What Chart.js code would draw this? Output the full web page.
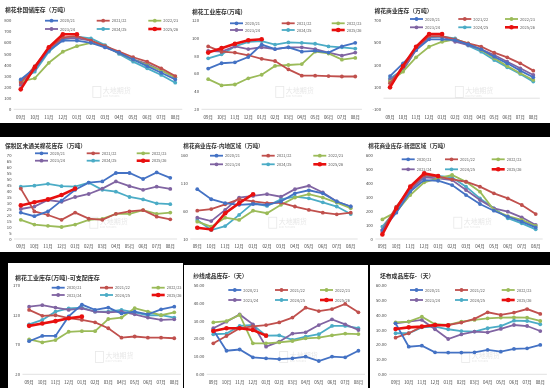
<!DOCTYPE html>
<html>
<head>
<meta charset="utf-8">
<script src="https://cdn.jsdelivr.net/npm/chart.js@4.4.0/dist/chart.umd.min.js"></script>
<style>
    body { margin: 0; width: 550px; height: 388px; background: #000; position: relative; overflow: hidden; }
    .fundo { position: absolute; background: #fff; }
    canvas { position: absolute; }
</style>
</head>
<body>
<div class="fundo" style="left:0;top:0;width:550px;height:123px"></div>
<div class="fundo" style="left:0;top:137px;width:550px;height:115px"></div>
<div class="fundo" style="left:8px;top:263px;width:175px;height:125px"></div>
<div class="fundo" style="left:184px;top:265px;width:184px;height:123px"></div>
<div class="fundo" style="left:370px;top:265px;width:180px;height:123px"></div>

<canvas id="g1"></canvas>
<canvas id="g2"></canvas>
<canvas id="g3"></canvas>
<canvas id="g4"></canvas>
<canvas id="g5"></canvas>
<canvas id="g6"></canvas>
<canvas id="g7"></canvas>
<canvas id="g8"></canvas>
<canvas id="g9"></canvas>

<script>
// dados (linhas na ordem das safras)
const meses = ['09月', '10月', '11月', '12月', '01月', '02月', '03月', '04月', '05月', '06月', '07月', '08月'];
const safras = ['2020/21', '2021/22', '2022/23', '2023/24', '2024/25', '2025/26'];

const titulos = [
    '棉花非国储库存（万吨）',
    '棉花工业库存(万吨)',
    '棉花商业库存（万吨）',
    '保税区未通关棉花库存（万吨）',
    '棉花商业库存-内地区域（万吨）',
    '棉花商业库存-新疆区域（万吨）',
    '棉花工业库存(万吨)-可支配库存',
    '纱线成品库存-（天）',
    '坯布成品库存-（天）'
];

const naoReserva = [
    [270, 370, 530, 620, 620, 600, 560, 510, 450, 390, 330, 270],
    [240, 390, 550, 650, 660, 620, 570, 520, 470, 430, 370, 300],
    [250, 280, 420, 520, 570, 600, 570, 510, 450, 400, 350, 290],
    [220, 360, 540, 640, 640, 620, 560, 510, 450, 410, 350, 290],
    [260, 340, 520, 630, 655, 640, 580, 500, 430, 370, 310, 240],
    [180, 380, 560, 677, 677]
];
const industrial = [
    [66, 72, 73, 79, 93, 88, 90, 85, 86, 84, 91, 95],
    [91, 85, 84, 81, 77, 74.5, 65, 58, 58, 57.5, 57, 57],
    [54, 47, 48, 55, 59, 69, 70, 71, 85, 83, 76, 78],
    [86, 85, 91, 88, 90, 88, 90, 90, 88, 84, 80.5, 84],
    [77.5, 82, 91, 96, 97, 93, 95.5, 95, 94, 91, 90, 88.5],
    [84, 89, 94, 98, 99]
];
const comercial = [
    [200, 315, 435, 532, 532, 525, 487, 441, 375, 315, 249, 189],
    [135, 285, 460, 560, 560, 532, 495, 465, 411, 369, 315, 249],
    [150, 240, 369, 465, 510, 532, 495, 435, 360, 291, 225, 165],
    [165, 255, 435, 556, 556, 510, 480, 441, 390, 330, 270, 210],
    [180, 255, 441, 550, 556, 540, 475, 420, 345, 279, 219, 150],
    [98, 291, 465, 580, 580]
];
const alfandega = [
    [22, 19, 23, 32, 41, 47, 48, 55, 55, 50, 55.5, 51],
    [42, 23, 20, 16, 22, 17, 16, 21, 23, 24, 18.6, 16.4],
    [16, 12, 11, 10, 12, 16, 16.7, 21, 21, 24, 21, 22],
    [25, 27, 32.5, 31, 35, 37.5, 42, 48, 44, 41, 43.6, 41.7],
    [43.6, 44.4, 46, 44, 43.6, 47, 41, 39.4, 35, 33, 29.7, 29],
    [28, 30.6, 33, 36.7, 42]
];
const interior = [
    [99, 81, 74, 71, 72.5, 71, 77, 91.5, 97, 91.5, 77, 68],
    [60.6, 63.5, 72, 81, 77, 74, 75, 68, 62, 57, 54, 57],
    [41, 32, 48, 44, 60.6, 56, 71, 84, 90, 84, 75, 65],
    [48, 42, 62, 84, 87, 90, 85.5, 99, 105, 93, 77, 68],
    [44, 26, 33, 53, 74, 69, 81, 85.5, 82.6, 75.5, 68, 54.6],
    [30, 27, 56, 74, 90]
];
const xinjiang = [
    [64, 188, 338, 421, 416, 385, 314, 250, 202, 159, 124, 83],
    [64, 231, 366, 457, 445, 426, 409, 374, 326, 290, 243, 178],
    [140, 195, 314, 405, 433, 457, 409, 338, 207, 164, 136, 93],
    [52, 212, 350, 440, 433, 421, 350, 278, 219, 195, 155, 100],
    [88, 207, 362, 445, 450, 440, 374, 290, 219, 148, 112, 69],
    [33, 219, 374, 469, 450]
];
const disponivel = [
    [76, 85, 85, 118, 138, 129, 133, 123, 126, 121.5, 130, 134.5],
    [129, 119, 120, 115, 112, 108, 98, 82, 84, 82, 82, 81],
    [79, 74, 78, 92, 93, 93, 113.6, 116, 132, 126, 120, 125],
    [134.5, 137, 133, 129, 131.7, 126, 125, 126, 121.5, 116, 112, 113],
    [104.6, 112, 126, 131.7, 133, 126, 126, 129, 125, 120, 120, 116],
    [102, 106, 110, 115, 117.6]
];
const fio = [
    [25, 13.3, 14, 9.6, 9, 8.6, 9, 10, 7.5, 10, 9.6, 13.3],
    [17.5, 21.6, 26, 27, 27.8, 29.3, 32, 37.6, 35.7, 36.8, 39.7, 35],
    [29.3, 30, 33.5, 17.5, 17.5, 18, 18.8, 20.3, 20.7, 22, 23, 22.7],
    [26, 29.7, 33.8, 28.2, 15.6, 18.4, 23, 23.7, 27.8, 31, 28.2, 25],
    [22.6, 23, 27.3, 27.8, 21.8, 22, 19.4, 21.2, 22.6, 27.3, 27.3, 26],
    [24.4, 26, 26, 25, 21.8]
];
const tecido = [
    [34.5, 18.7, 19.4, 14.9, 14.7, 14.7, 14.9, 16.5, 15.3, 17.2, 17.6, 19.9],
    [24.8, 27.8, 32.3, 33.4, 33.4, 35, 37.5, 42, 40.2, 41.8, 44.2, 40.9],
    [35.2, 35.7, 39, 33.9, 33.4, 35.7, 36.8, 37.9, 38.4, 38.6, 38.4, 36.1],
    [34.5, 35.7, 36.8, 30.5, 23.9, 27, 28.9, 28.4, 30.7, 33.4, 32.7, 29.3],
    [27.8, 27.8, 31.8, 32.3, 30.5, 29.3, 28.9, 31.2, 32.7, 36.3, 36.1, 33.9],
    [30.7, 31.8, 32.3, 33.4, 33]
];

// eixo y: minimo, maximo, passo, casas decimais
const eixo1 = [0, 800, 100, 0];
const eixo2 = [20, 120, 20, 0];
const eixo3 = [-100, 700, 200, 0];
const eixo4 = [0, 70, 5, 0];
const eixo5 = [10, 160, 50, 0];
const eixo6 = [0, 600, 100, 0];
const eixo7 = [20, 170, 50, 0];
const eixo8 = [0, 50, 10, 2];
const eixo9 = [0, 60, 10, 2];

// estilo
const cores = ['#4472C4', '#C0504D', '#9BBB59', '#8064A2', '#4BACC6', '#E8100F'];
const fonteCJK = '"Noto Sans CJK SC", "Noto Sans", sans-serif';

// caixa = [x, y, largura, altura], area = [esq, topo, dir, base] em coordenadas da pagina
const paineis = [
    { id: 'g1', caixa: [0, 0, 185, 123], area: [13.7, 20.7, 182.7, 109.3], tit: [5, 10, 5.8], legX: [45, 96.7, 148.3], legY: [20.7, 29], dados: naoReserva, eixo: eixo1, cruza: 0 },
    { id: 'g2', caixa: [185, 0, 180, 123], area: [201.5, 20.7, 365, 109.3], tit: [192, 12, 5.8], legX: [230, 281.7, 331.7], legY: [23.3, 30], dados: industrial, eixo: eixo2, cruza: 20 },
    { id: 'g3', caixa: [365, 0, 185, 123], area: [383.5, 20.7, 539.8, 109.3], tit: [374.5, 10.5, 5.8], legX: [410, 458.3, 505], legY: [19, 27.3], dados: comercial, eixo: eixo3, cruza: 0 },
    { id: 'g4', caixa: [0, 137, 180, 115], area: [14, 155, 179, 239], tit: [5, 145.7, 5.8], legX: [35, 86.7, 136.7], legY: [153.3, 160.7], dados: alfandega, eixo: eixo4, cruza: 0 },
    { id: 'g5', caixa: [180, 137, 185, 115], area: [190.3, 155, 357.7, 239], tit: [183.3, 145.7, 5.6], legX: [210, 261.7, 313.3], legY: [155.7, 164.3], dados: interior, eixo: eixo5, cruza: 10 },
    { id: 'g6', caixa: [365, 137, 185, 115], area: [375.4, 155, 542.7, 239], tit: [368.3, 145.7, 5.6], legX: [401.7, 445, 491.7], legY: [159.3, 169.3], dados: xinjiang, eixo: eixo6, cruza: 0 },
    { id: 'g7', caixa: [8, 263, 176, 125], area: [22.5, 285.7, 184, 374.3], tit: [15, 277.3, 6], legX: [51.7, 100, 151.7], legY: [287.7, 295], dados: disponivel, eixo: eixo7, cruza: 20 },
    { id: 'g8', caixa: [184, 265, 185, 123], area: [206.7, 285.7, 365, 374.3], tit: [193.3, 275.7, 5.8], legX: [228.3, 275, 320], legY: [290, 300], dados: fio, eixo: eixo8, cruza: 0 },
    { id: 'g9', caixa: [370, 265, 180, 123], area: [389, 285.7, 549, 374.3], tit: [380, 275.7, 5.8], legX: [410, 455, 501.7], legY: [290, 300], dados: tecido, eixo: eixo9, cruza: 0 }
];

// titulo, legenda, marca d'agua e linha do eixo x
const decoracao = {
    id: 'decoracao',
    beforeDatasetsDraw(chart, args, op) {
        const ctx = chart.ctx;
        const a = chart.chartArea;
        const cx = a.left + (a.right - a.left) * 0.6;
        const cy = a.top + (a.bottom - a.top) * 0.8;
        ctx.save();
        ctx.strokeStyle = '#e8e8e8';
        ctx.fillStyle = '#e8e8e8';
        ctx.lineWidth = 0.8;
        ctx.strokeRect(cx - 22, cy - 5, 8, 11);
        ctx.font = '7px ' + fonteCJK;
        ctx.textBaseline = 'middle';
        ctx.fillText('大地期货', cx - 12, cy - 1);
        ctx.font = '2.4px ' + fonteCJK;
        ctx.fillText('DADI FUTURES', cx - 12, cy + 5);
        // linha do eixo
        const y0 = chart.scales.y.getPixelForValue(op.cruza);
        ctx.strokeStyle = '#d9d9d9';
        ctx.lineWidth = 0.8;
        ctx.beginPath();
        ctx.moveTo(a.left, y0);
        ctx.lineTo(a.right, y0);
        ctx.stroke();
        ctx.restore();
    },
    afterDraw(chart, args, op) {
        const ctx = chart.ctx;
        ctx.save();
        ctx.fillStyle = '#333333';
        ctx.font = 'bold ' + op.tit[2] + 'px ' + fonteCJK;
        ctx.textBaseline = 'middle';
        ctx.textAlign = 'left';
        ctx.fillText(op.titulo, op.tit[0], op.tit[1]);
        chart.data.datasets.forEach(function (ds, i) {
            const x = op.legX[i % 3];
            const y = op.legY[Math.floor(i / 3)];
            ctx.strokeStyle = ds.borderColor;
            ctx.lineWidth = ds.borderWidth;
            ctx.beginPath();
            ctx.moveTo(x, y);
            ctx.lineTo(x + 13, y);
            ctx.stroke();
            ctx.fillStyle = ds.borderColor;
            ctx.beginPath();
            ctx.arc(x + 6.5, y, ds.pointRadius, 0, Math.PI * 2);
            ctx.fill();
            ctx.fillStyle = '#595959';
            ctx.font = '4px ' + fonteCJK;
            ctx.fillText(ds.label, x + 15, y);
        });
        ctx.restore();
    }
};

function criarGrafico(p, n) {
    const canvas = document.getElementById(p.id);
    const [bx, by, bw, bh] = p.caixa;
    canvas.width = bw;
    canvas.height = bh;
    canvas.style.left = bx + 'px';
    canvas.style.top = by + 'px';

    const esq = p.area[0] - bx;
    const topo = p.area[1] - by;
    const dir = bx + bw - p.area[2];
    const base = by + bh - p.area[3];
    const [ymin, ymax, passo, casas] = p.eixo;

    const series = p.dados.map(function (valores, i) {
        const atual = i == 5;
        return {
            label: safras[i],
            data: valores,
            borderColor: cores[i],
            backgroundColor: cores[i],
            borderWidth: atual ? 2.6 : 1.8,
            pointRadius: atual ? 2.3 : 1.9,
            pointBorderWidth: 0,
            pointHoverRadius: 0,
            tension: 0,
            order: atual ? 0 : 1
        };
    });

    new Chart(canvas, {
        type: 'line',
        data: { labels: meses, datasets: series },
        options: {
            responsive: false,
            animation: false,
            events: [],
            layout: { padding: { left: 0, top: topo, right: dir, bottom: 0 } },
            plugins: {
                legend: { display: false },
                tooltip: { enabled: false },
                decoracao: {
                    titulo: titulos[n],
                    tit: [p.tit[0] - bx, p.tit[1] - by, p.tit[2]],
                    legX: p.legX.map(v => v - bx),
                    legY: p.legY.map(v => v - by),
                    cruza: p.cruza
                }
            },
            scales: {
                x: {
                    offset: true,
                    grid: { display: false, drawTicks: false },
                    border: { display: false },
                    ticks: {
                        autoSkip: false,
                        maxRotation: 0,
                        padding: 5,
                        color: '#404040',
                        font: { size: 4.4, family: fonteCJK }
                    },
                    afterFit: function (s) { s.height = base; }
                },
                y: {
                    min: ymin,
                    max: ymax,
                    grid: { display: false, drawTicks: false },
                    border: { display: false },
                    ticks: {
                        stepSize: passo,
                        autoSkip: false,
                        padding: 2.5,
                        color: '#404040',
                        font: { size: 4.2, family: fonteCJK },
                        callback: function (v) { return v.toFixed(casas); }
                    },
                    afterFit: function (s) { s.width = esq; }
                }
            }
        },
        plugins: [decoracao]
    });
}

paineis.forEach(criarGrafico);
</script>
</body>
</html>
